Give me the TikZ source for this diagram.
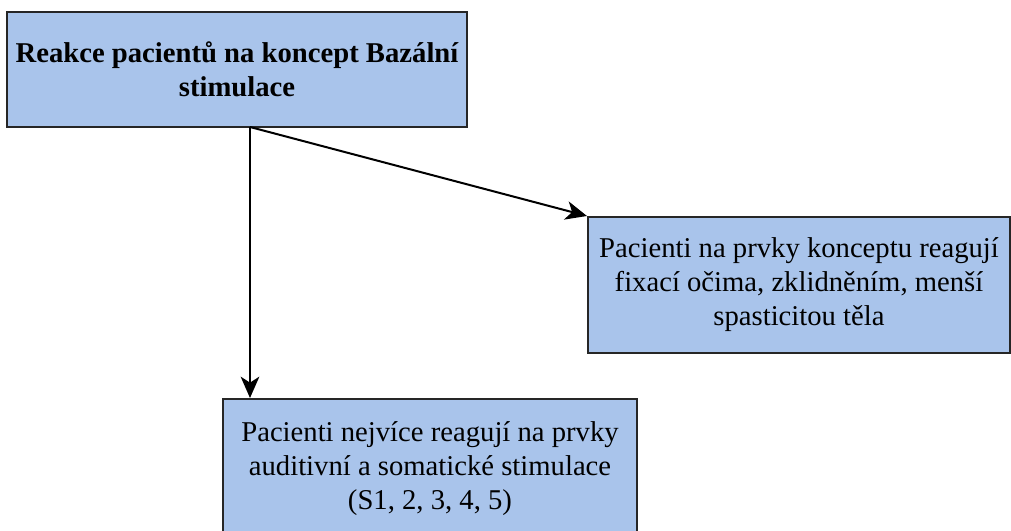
\documentclass[tikz,border=0pt]{standalone}
\usepackage{fontspec}
\setmainfont{Liberation Serif}
\usetikzlibrary{arrows.meta}

\definecolor{cajaazul}{RGB}{169,196,235}

\tikzset{
    caja/.style={draw=black!85, line width=1.5pt, fill=cajaazul, align=center,
        inner sep=0pt, font=\fontsize{21.5}{25.5}\selectfont},
    flecha/.style={line width=1.5pt, -{Stealth[length=16pt,width=14pt,inset=4.5pt]}}
}

\begin{document}
\begin{tikzpicture}[x=0.75pt, y=-0.75pt]
        % Fija el tamaño del dibujo (en píxeles de la imagen original).
        \useasboundingbox (0,0) rectangle (1011,531);
    
        % Caja principal arriba a la izquierda.
        \node[caja, minimum width=460*0.75pt, minimum height=115*0.75pt] (reakce) at (237,69.5)
            {\bfseries Reakce pacientů na koncept Bazální\\\bfseries stimulace};
    
        % Caja de la derecha y caja de abajo.
        \node[caja, minimum width=422*0.75pt, minimum height=136*0.75pt] (fixace) at (799,285)
            {Pacienti na prvky konceptu reagují\\fixací očima, zklidněním, menší\\spasticitou těla};
        \node[caja, minimum width=414*0.75pt, minimum height=140*0.75pt] (auditivni) at (430,469)
            {Pacienti nejvíce reagují na prvky\\auditivní a somatické stimulace\\(S1, 2, 3, 4, 5)};
    
        % Punto de salida de las flechas en el borde inferior.
        \coordinate (vychod) at (250,127);
    
        % Dibuja las dos flechas.
        \draw[flecha] (vychod) -- (vychod |- auditivni.north);
        \draw[flecha] (vychod) -- (fixace.north west);
    \end{tikzpicture}
\end{document}
